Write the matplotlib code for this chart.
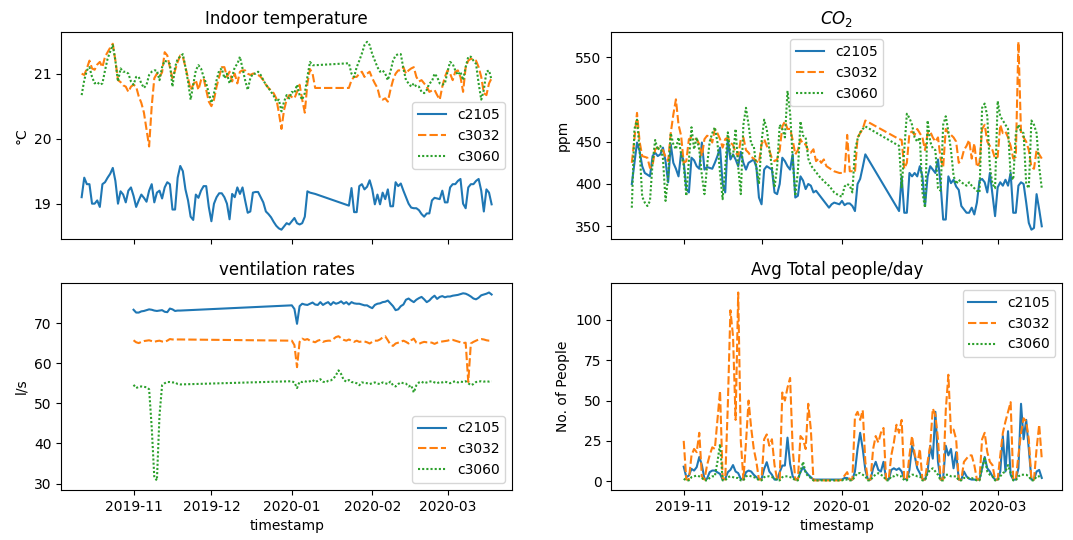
import pandas as pd
import matplotlib
matplotlib.use('Agg')
import matplotlib.pyplot as plt
from matplotlib.ticker import MaxNLocator
import seaborn as sns

rooms = ['c2105', 'c3032', 'c3060']


def days(start, end):
    return pd.date_range(start, end, freq='D')


# temperature and CO2: daily means, logger gap 11-22 Jan
env_dates = days('2019-10-12', '2020-01-10').append(days('2020-01-23', '2020-03-18'))

temp_c2105 = [
    19.10, 19.40, 19.30, 19.30, 19.00, 19.00, 19.05,
    18.95, 19.30, 19.33, 19.40, 19.46, 19.55, 19.35,
    19.00, 19.19, 19.14, 19.02, 19.20, 19.25, 19.12,
    18.95, 19.05, 19.14, 19.09, 19.03, 19.20, 19.30,
    19.02, 19.17, 19.20, 19.08, 19.25, 19.33, 19.30,
    18.91, 18.91, 19.40, 19.58, 19.50, 19.22, 19.05,
    18.80, 18.75, 19.14, 19.09, 19.20, 19.27, 19.27,
    18.95, 18.73, 19.00, 19.10, 19.16, 19.16, 19.10,
    19.00, 18.76, 19.15, 19.10, 19.25, 19.15, 19.25,
    19.05, 18.86, 18.88, 19.17, 19.18, 19.18, 19.10,
    19.02, 18.88, 18.84, 18.79, 18.72, 18.66, 18.62,
    18.60, 18.65, 18.70, 18.68, 18.73, 18.78, 18.70,
    18.68, 18.70, 18.80, 19.19, 19.17, 19.16, 19.15,
    # from 23 Jan
    18.97, 19.24, 18.87, 18.87, 19.27, 19.30, 19.22,
    19.26, 19.36, 19.22, 18.99, 19.14, 18.99, 19.17,
    19.07, 19.22, 18.96, 18.96, 19.33, 19.27, 19.31,
    19.20, 19.10, 19.00, 18.94, 18.93, 18.93, 18.90,
    18.84, 18.80, 18.85, 18.85, 19.05, 19.09, 19.08,
    19.07, 19.20, 19.02, 19.02, 19.25, 19.30, 19.30,
    19.35, 19.38, 19.00, 18.93, 19.25, 19.30, 19.30,
    19.35, 19.38, 19.20, 18.88, 19.22, 19.17, 18.99,
]
temp_c3032 = [
    21.00, 20.98, 21.08, 21.20, 21.08, 21.06, 21.14,
    21.18, 21.10, 21.26, 21.33, 21.40, 21.46, 21.20,
    20.90, 20.87, 20.82, 20.80, 20.72, 20.80, 20.83,
    20.80, 20.65, 20.55, 20.40, 20.14, 19.88, 20.50,
    20.93, 21.00, 20.95, 21.02, 21.33, 21.28, 21.10,
    20.93, 21.05, 21.18, 21.28, 21.26, 21.10, 20.93,
    20.75, 20.83, 20.90, 20.75, 20.90, 20.93, 20.75,
    20.57, 20.50, 20.60, 20.80, 20.95, 21.10, 21.10,
    20.95, 21.03, 20.88, 21.00, 20.85, 21.03, 21.05,
    21.05, 21.00, 20.98, 21.00, 21.00, 20.98, 20.95,
    20.90, 20.83, 20.78, 20.74, 20.70, 20.62, 20.40,
    20.15, 20.44, 20.60, 20.67, 20.64, 20.62, 20.72,
    20.83, 20.60, 20.40, 20.85, 21.07, 21.00, 20.78,
    # from 23 Jan
    20.78, 20.90, 20.95, 20.95, 21.00, 21.03, 20.95,
    21.00, 21.03, 20.93, 20.85, 20.78, 20.62, 20.60,
    20.62, 20.57, 20.75, 20.90, 21.00, 21.05, 21.05,
    21.10, 21.00, 21.05, 21.08, 21.10, 20.95, 20.88,
    20.90, 20.85, 20.80, 20.72, 20.74, 20.75, 20.67,
    20.60, 20.80, 20.95, 21.05, 21.00, 20.90, 21.03,
    21.05, 20.95, 20.72, 21.10, 21.20, 21.23, 21.22,
    21.20, 21.10, 20.95, 20.70, 20.67, 20.85, 20.93,
]
temp_c3060 = [
    20.67, 20.90, 21.05, 21.10, 20.95, 20.85, 20.87,
    20.83, 20.85, 21.05, 21.23, 21.34, 21.44, 21.20,
    20.88, 21.08, 21.03, 21.03, 21.00, 20.88, 20.83,
    20.95, 20.95, 20.85, 20.78, 20.83, 20.98, 21.03,
    21.05, 21.05, 20.90, 21.10, 21.20, 21.18, 21.15,
    20.80, 21.10, 21.23, 21.26, 21.30, 21.10, 20.88,
    20.60, 20.83, 21.05, 21.13, 21.08, 20.95, 20.85,
    20.70, 20.55, 20.70, 20.90, 21.05, 21.08, 20.93,
    21.00, 20.85, 20.95, 21.10, 21.15, 21.26, 21.08,
    20.90, 20.75, 20.93, 21.00, 21.00, 21.03, 20.98,
    20.90, 20.83, 20.78, 20.72, 20.66, 20.57, 20.60,
    20.42, 20.57, 20.67, 20.62, 20.72, 20.70, 20.83,
    20.67, 20.60, 20.70, 20.95, 21.18, 21.13, 21.13,
    # from 23 Jan
    21.16, 21.00, 20.95, 21.10, 21.20, 21.31, 21.44,
    21.49, 21.44, 21.30, 21.20, 21.10, 21.03, 21.05,
    21.00, 20.90, 21.03, 21.20, 21.28, 21.30, 21.30,
    21.08, 20.90, 20.85, 20.80, 20.85, 20.80, 20.80,
    20.72, 20.70, 20.75, 20.85, 20.88, 21.00, 20.95,
    20.85, 20.83, 20.85, 21.03, 21.18, 21.15, 21.05,
    20.98, 21.03, 20.90, 21.10, 21.26, 21.26, 21.20,
    21.15, 20.85, 20.60, 20.75, 21.03, 21.05, 20.90,
]

co2_c2105 = [
    400, 425, 449, 439, 421, 413, 411,
    409, 433, 437, 433, 435, 443, 427,
    402, 447, 425, 418, 409, 437, 427,
    394, 390, 431, 428, 421, 418, 449,
    417, 420, 419, 418, 425, 433, 443,
    400, 390, 453, 429, 435, 429, 421,
    438, 425, 417, 425, 427, 429, 420,
    384, 376, 417, 421, 419, 417, 390,
    388, 400, 431, 427, 421, 417, 435,
    384, 386, 409, 404, 394, 400, 398,
    390, 392, 388, 384, 380, 376, 372,
    376, 378, 377, 376, 380, 375, 377,
    377, 374, 368, 400, 406, 420, 435,
    # from 23 Jan
    368, 409, 366, 366, 413, 409, 413,
    409, 421, 409, 374, 409, 421, 417,
    413, 429, 400, 358, 358, 409, 401,
    405, 397, 393, 374, 370, 366, 366,
    372, 364, 378, 404, 406, 402, 390,
    413, 387, 362, 396, 402, 398, 405,
    398, 413, 366, 366, 398, 402, 400,
    378, 354, 346, 348, 388, 370, 350,
]
co2_c3032 = [
    425, 453, 484, 450, 433, 432, 431,
    419, 422, 441, 443, 440, 440, 432,
    427, 460, 482, 500, 470, 457, 425,
    427, 453, 455, 453, 453, 447, 433,
    453, 457, 456, 449, 465, 460, 453,
    443, 453, 455, 449, 446, 437, 433,
    453, 455, 440, 437, 432, 430, 427,
    425, 447, 453, 445, 440, 430, 427,
    429, 440, 468, 474, 465, 465, 452,
    435, 440, 453, 447, 447, 439, 437,
    441, 427, 430, 425, 429, 421, 419,
    417, 415, 414, 413, 413, 413, 458,
    415, 415, 414, 455, 460, 465, 475,
    # from 23 Jan
    453, 452, 418, 425, 460, 462, 458,
    465, 460, 455, 440, 460, 462, 455,
    450, 455, 430, 420, 465, 460, 458,
    455, 450, 425, 428, 440, 445, 452,
    430, 448, 420, 425, 465, 470, 450,
    445, 440, 430, 432, 470, 460, 462,
    455, 445, 430, 432, 568, 460, 455,
    450, 440, 420, 418, 440, 435, 430,
]
co2_c3060 = [
    372, 465, 476, 440, 385, 378, 374,
    380, 425, 452, 440, 445, 430, 380,
    410, 460, 447, 441, 455, 435, 422,
    386, 428, 467, 441, 455, 440, 410,
    388, 421, 450, 460, 467, 449, 413,
    382, 420, 461, 435, 433, 465, 420,
    388, 470, 490, 470, 447, 445, 420,
    400, 450, 476, 465, 441, 420, 396,
    420, 470, 465, 455, 510, 484, 430,
    386, 415, 474, 457, 455, 430, 422,
    418, 414, 410, 406, 404, 400, 398,
    394, 390, 388, 386, 385, 397, 400,
    398, 390, 440, 453, 461, 465, 468,
    # from 23 Jan
    445, 395, 440, 483, 478, 470, 455,
    450, 455, 390, 372, 475, 450, 442,
    440, 395, 392, 470, 480, 462, 440,
    410, 400, 405, 402, 400, 398, 402,
    398, 395, 392, 390, 490, 495, 480,
    420, 400, 395, 498, 480, 475, 470,
    465, 410, 405, 460, 470, 462, 460,
    400, 395, 475, 470, 460, 420, 395,
]

# ventilation rates: 1-19 Nov, then from 1 Jan
vent_dates = days('2019-11-01', '2019-11-19').append(days('2020-01-01', '2020-03-18'))

vent_c2105 = [
    73.3, 72.6, 72.6, 72.9, 73.0, 73.2, 73.4, 73.3, 73.1, 73.0,
    73.1, 73.2, 72.8, 72.7, 73.6, 73.4, 73.0, 73.1, 73.1,
    # Jan
    74.4, 73.5, 69.8, 74.2, 74.8, 74.6, 74.5, 74.8, 75.1, 74.6,
    74.5, 75.2, 74.5, 74.9, 75.2, 74.5, 75.2, 74.8, 75.0, 75.4,
    74.8, 75.2, 74.6, 75.2, 74.9, 74.8, 74.8, 74.6, 74.4, 74.4, 74.0,
    # Feb
    73.7, 74.5, 74.8, 74.9, 75.2, 75.3, 75.6, 74.9, 74.2, 73.2,
    73.4, 74.2, 74.6, 75.8, 76.1, 75.6, 75.2, 75.8, 76.2, 76.5,
    75.9, 75.2, 75.6, 76.3, 76.8, 76.0, 76.5, 76.7, 76.4,
    # Mar
    76.6, 76.6, 76.8, 76.9, 77.0, 77.2, 77.4, 77.3, 77.0, 76.6,
    76.1, 75.9, 76.3, 76.9, 77.1, 77.3, 77.6, 77.1,
]
vent_c3032 = [
    65.7, 65.2, 65.0, 65.3, 65.5, 65.6, 65.7, 65.5, 65.3, 65.5,
    65.6, 65.4, 65.3, 65.6, 66.0, 65.9, 65.9, 65.9, 65.9,
    # Jan
    65.6, 64.5, 59.0, 65.3, 66.1, 65.8, 66.0, 65.6, 65.4, 65.2,
    65.6, 65.8, 65.3, 65.5, 65.6, 65.6, 66.0, 66.5, 66.7, 66.2,
    65.8, 65.6, 65.9, 65.6, 65.3, 65.6, 65.3, 65.4, 65.4, 65.2, 64.9,
    # Feb
    65.3, 65.6, 65.6, 65.9, 66.4, 66.7, 65.7, 64.6, 64.3, 64.9,
    65.1, 65.3, 65.6, 65.3, 64.9, 65.7, 66.1, 65.1, 64.8, 65.1,
    65.3, 65.2, 65.2, 65.1, 64.8, 65.1, 65.3, 65.4, 65.5,
    # Mar
    65.6, 65.8, 65.8, 65.6, 65.4, 65.2, 65.0, 65.1, 55.3, 64.9,
    65.3, 65.6, 65.9, 66.0, 65.9, 65.7, 65.6, 65.6,
]
vent_c3060 = [
    54.6, 53.8, 54.1, 54.2, 54.1, 54.0, 53.5, 44.0, 31.5, 30.8,
    47.0, 54.5, 55.0, 55.3, 55.3, 55.2, 55.2, 54.8, 54.7,
    # Jan
    55.5, 55.2, 53.8, 55.4, 55.3, 55.5, 55.3, 55.5, 55.8, 55.3,
    55.6, 56.0, 55.4, 55.2, 55.6, 55.7, 56.1, 57.0, 58.2, 57.3,
    55.8, 55.4, 55.8, 55.3, 55.2, 55.0, 54.5, 55.2, 55.1, 55.0, 54.8,
    # Feb
    55.0, 55.2, 54.9, 54.8, 55.2, 55.0, 54.8, 55.4, 54.5, 54.2,
    54.8, 55.2, 55.0, 54.9, 54.2, 54.5, 52.7, 54.5, 55.2, 55.4,
    55.0, 55.2, 55.4, 55.5, 55.2, 55.0, 55.3, 55.2, 55.4,
    # Mar
    55.2, 55.0, 55.3, 55.5, 55.2, 55.4, 55.3, 55.5, 55.0, 54.5,
    54.8, 55.3, 55.4, 55.5, 55.4, 55.5, 55.4, 55.5,
]

# average people per day, 1 Nov - 18 Mar
people_dates = days('2019-11-01', '2020-03-18')

people_c2105 = [
    # Nov
    9, 2.5, 3.5, 7.6, 6.6, 8.7, 15, 10, 1.4, 1.5,
    5.6, 6.6, 6.6, 5.5, 4.5, 1, 1.5, 5.6, 7, 10,
    6, 5, 1.4, 1, 5.6, 6.6, 6, 4, 2.5, 1.4,
    # Dec
    1.4, 7.6, 11.8, 6, 4, 1, 1, 5.6, 9.7, 9.7,
    27, 10.7, 3, 1, 1.4, 5.6, 8.7, 6, 4, 2.5,
    1, 1, 1, 1, 1, 1, 1, 1, 1, 1, 1,
    # Jan
    1, 2, 2, 1, 1, 6, 20, 30, 20, 7,
    1, 1, 8, 12, 7, 6, 12, 1.5, 1, 7,
    8, 7, 8, 6, 1.5, 1, 7, 22, 16, 8, 5,
    # Feb
    1.5, 1, 6, 22, 14, 43, 12, 1, 2, 22,
    16, 20, 8, 18, 1, 1, 6, 3, 1.5, 1,
    1, 1, 1, 8, 15, 8, 6, 3, 1,
    # Mar
    1, 6, 28, 6, 31, 4, 1, 1, 8, 48,
    26, 38, 20, 1, 1, 6, 7, 2,
]
people_c3032 = [
    # Nov
    25, 1, 1, 16, 20, 18, 30, 3, 1, 10,
    16, 21, 20, 38, 56, 2, 1, 47, 106, 90,
    38, 117, 25, 1, 24, 50, 33, 20, 12, 1,
    # Dec
    1, 26, 29, 22, 26, 10, 1, 1, 55, 50,
    58, 64, 20, 1, 1, 28, 26, 20, 48, 32,
    0.5, 0.5, 0.5, 0.5, 0.5, 0.5, 0.5, 0.5, 0.5, 0.5, 0.5,
    # Jan
    1, 3.5, 5.6, 1, 1, 40, 43, 38, 44, 12,
    1, 1, 20, 28, 24, 30, 33, 1, 1, 16,
    24, 35, 30, 38, 1, 1, 16, 28, 17, 10, 20,
    # Feb
    1, 1, 12, 22, 45, 41, 26, 1, 1, 44,
    66, 30, 32, 26, 1, 1, 12, 14, 16, 16,
    10, 1, 1, 26, 30, 18, 12, 10, 1,
    # Mar
    1, 16, 30, 37, 43, 49, 1, 1, 16, 30,
    39, 37, 26, 1, 1, 20, 35, 14,
]
people_c3060 = [
    # Nov
    1.5, 0.5, 0.5, 2.5, 3, 3.5, 3, 2, 0.5, 0.5,
    2, 3, 3, 12, 23, 0.5, 0.5, 2.5, 3, 2.5,
    2, 2, 0.5, 0.5, 3, 3.5, 3, 2.5, 2, 0.5,
    # Dec
    0.5, 2.5, 3, 3, 2.5, 2, 0.5, 0.5, 2.5, 3,
    3, 2.5, 2, 0.5, 0.5, 6, 12, 5, 3, 2,
    0.5, 0.5, 0.5, 0.5, 0.5, 0.5, 0.5, 0.5, 0.5, 0.5, 0.5,
    # Jan
    0.5, 1, 1, 0.5, 0.5, 3, 5, 5, 4, 3,
    0.5, 0.5, 3, 4, 5, 4, 3, 0.5, 0.5, 3,
    3, 4, 3, 3, 0.5, 0.5, 3, 4, 4, 3, 3,
    # Feb
    0.5, 0.5, 5, 7, 8, 6, 4, 0.5, 0.5, 4,
    4, 3, 3, 3, 0.5, 0.5, 2, 2, 2, 2,
    1, 0.5, 0.5, 8, 15, 6, 4, 3, 0.5,
    # Mar
    0.5, 3, 5, 6, 10, 5, 0.5, 0.5, 3, 4,
    4, 4, 3, 0.5, 0.5, 3, 3, 2,
]


def frame(dates, *series):
    df = pd.DataFrame(dict(zip(rooms, series)), index=dates)
    df.index.name = 'timestamp'
    return df


temp = frame(env_dates, temp_c2105, temp_c3032, temp_c3060)
co2 = frame(env_dates, co2_c2105, co2_c3032, co2_c3060)
vent = frame(vent_dates, vent_c2105, vent_c3032, vent_c3060)
people = frame(people_dates, people_c2105, people_c3032, people_c3060)

panels = [
    (temp, 'Indoor temperature', '°C', 'center right'),
    (co2, '$CO_2$', 'ppm', 'upper center'),
    (vent, 'ventilation rates', 'l/s', 'lower right'),
    (people, 'Avg Total people/day', 'No. of People', 'upper right'),
]

fig, axes = plt.subplots(2, 2, sharex=True, figsize=(10.73, 5.4), dpi=100)
for ax, (df, title, ylabel, loc) in zip(axes.flat, panels):
    sns.lineplot(data=df, ax=ax)
    ax.set_title(title)
    ax.set_ylabel(ylabel)
    ax.yaxis.set_major_locator(MaxNLocator(nbins=6, steps=[1, 2, 2.5, 5, 10]))
    sns.move_legend(ax, loc)
for ax in axes[0]:
    ax.set_xlabel('')

plt.subplots_adjust(left=0.057, right=0.99, top=0.94, bottom=0.093,
                    wspace=0.22, hspace=0.213)
plt.savefig('out.png', dpi=100)
